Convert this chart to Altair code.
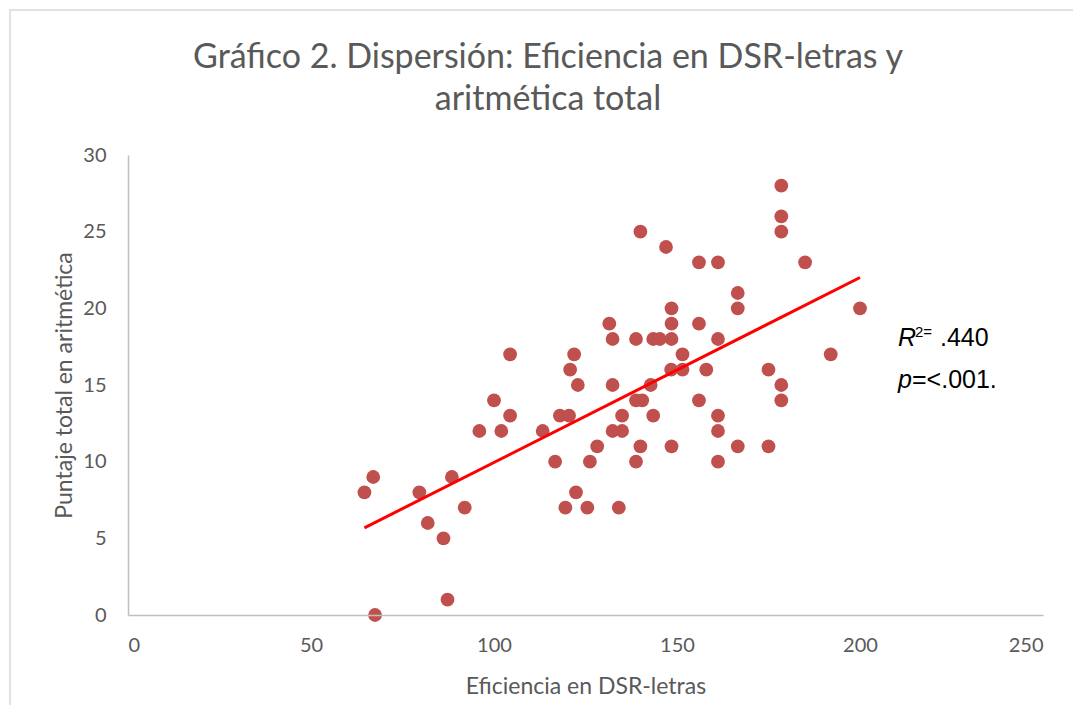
import altair as alt
import pandas as pd

eficiencia = [64.6, 67, 67.5, 79.6, 81.9, 86.2, 87.3, 88.5, 92, 96, 100, 102, 104.4, 104.4,
              113.3, 116.7, 118, 119.5, 120.5, 120.8, 121.9, 122.4, 122.9, 125.5, 126.2, 128.2,
              131.5, 132.4, 132.4, 132.4, 134.1, 135, 135, 138.8, 138.8, 140.5, 138.8, 140, 140,
              142.8, 143.5, 143.5, 145.3, 147, 148.5, 148.5, 148.5, 148.4, 148.5, 151.5, 151.5,
              156, 156, 156, 158, 161.2, 161.2, 161.2, 161.2, 161.2, 166.6, 166.6, 166.6,
              175, 175, 178.5, 178.5, 178.5, 178.5, 178.5, 185, 192, 200]
puntaje = [8, 9, 0, 8, 6, 5, 1, 9, 7, 12, 14, 12, 13, 17,
           12, 10, 13, 7, 13, 16, 17, 8, 15, 7, 10, 11,
           19, 18, 15, 12, 7, 13, 12, 10, 14, 14, 18, 25, 11,
           15, 13, 18, 18, 24, 20, 19, 18, 16, 11, 17, 16,
           23, 19, 14, 16, 23, 18, 13, 12, 10, 21, 20, 11,
           16, 11, 28, 26, 25, 15, 14, 23, 17, 20]
title_lines = ["Gráfico 2. Dispersión: Eficiencia en DSR-letras y", "aritmética total"]

df = pd.DataFrame({"x": eficiencia, "y": puntaje})

W, H = 915, 460
FONT = "Lato"
GREY = "#595959"

base = alt.Chart(df)

xenc = alt.X("x:Q", scale=alt.Scale(domain=[0, 250], nice=False),
             axis=alt.Axis(values=[0, 50, 100, 150, 200, 250], title="Eficiencia en DSR-letras",
                           grid=False, ticks=False, domainColor="#bfbfbf", domainWidth=1.5,
                           labelFontSize=20, labelColor=GREY, labelFont=FONT, labelPadding=20,
                           titleFontSize=23, titleColor=GREY, titleFont=FONT, titleFontWeight="normal",
                           titlePadding=20, zindex=1))
yenc = alt.Y("y:Q", scale=alt.Scale(domain=[0, 30], nice=False),
             axis=alt.Axis(values=[0, 5, 10, 15, 20, 25, 30], title="Puntaje total en aritmética",
                           grid=False, ticks=False, domainColor="#bfbfbf", domainWidth=1.5,
                           labelFontSize=20, labelColor=GREY, labelFont=FONT, labelPadding=22,
                           titleFontSize=23, titleColor=GREY, titleFont=FONT, titleFontWeight="normal",
                           titlePadding=6, zindex=1))

border = alt.Chart(pd.DataFrame({"a": [0]})).mark_rect(
    fillOpacity=0, stroke="#d9d9d9", strokeWidth=1.5
).encode(x=alt.value(-118), x2=alt.value(W + 40), y=alt.value(-145), y2=alt.value(H + 115))

points = base.mark_circle(size=190, color="#c0504d", opacity=1).encode(x=xenc, y=yenc)

line = base.transform_regression("x", "y").mark_line(color="#ff0000", strokeWidth=3).encode(
    x="x:Q", y="y:Q")

ann = pd.DataFrame({"t": [0]})
def txt(s, x, y, size=25, style="normal", font="Liberation Sans", color="black",
        align="left", baseline="alphabetic"):
    return alt.Chart(ann).mark_text(text=s, fontSize=size, font=font, fontStyle=style,
                                    color=color, align=align, baseline=baseline).encode(
        x=alt.value(x), y=alt.value(y))

r_it = txt("R", 770, 191, style="italic")
r_sup = txt("2=", 787, 182, size=15)
r_val = txt(".440", 812, 191)
p_it = txt("p", 770, 233, style="italic")
p_val = txt("=<.001.", 784, 233)

t1 = txt(title_lines[0], 420, -97, size=34, font=FONT, color=GREY, align="center", baseline="middle")
t2 = txt(title_lines[1], 420, -55, size=34, font=FONT, color=GREY, align="center", baseline="middle")

chart = alt.layer(border, points, line, r_it, r_sup, r_val, p_it, p_val, t1, t2).properties(
    width=W, height=H,
    padding={"left": 120, "top": 147, "right": 30, "bottom": 90},
    autosize=alt.AutoSizeParams(type="none"),
    background="white",
).configure_view(strokeWidth=0, stroke="transparent")

chart.save("out.html", embed_options={"renderer": "svg", "actions": False})
